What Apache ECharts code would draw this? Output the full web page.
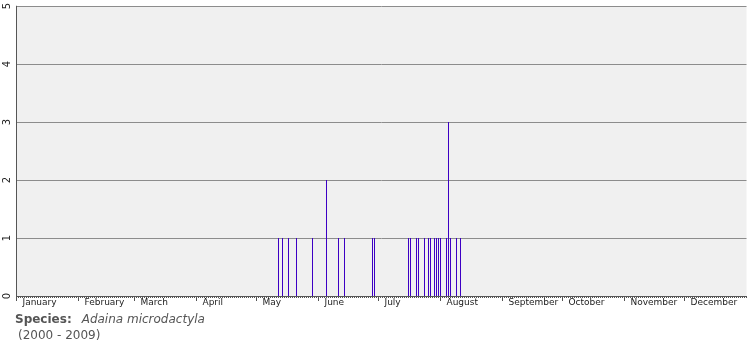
<!DOCTYPE html>
<html>
<head>
<meta charset="utf-8">
<script src="https://cdn.jsdelivr.net/npm/echarts@6/dist/echarts.min.js"></script>
<style>
html,body{margin:0;padding:0;background:#fff;}
#chart{width:755px;height:350px;}
</style>
</head>
<body>
<div id="chart"></div>
<script>
// Day of year (0 = 1 January) of each record, and number of records that day
var recordDays = [131, 133, 136, 140, 148, 155, 161, 164, 178, 179, 196, 197, 200, 201, 204, 206, 207, 209, 210, 211, 212, 215, 216, 217, 220, 222];
var recordCounts = [1, 1, 1, 1, 1, 2, 1, 1, 1, 1, 1, 1, 1, 1, 1, 1, 1, 1, 1, 1, 1, 1, 3, 1, 1, 1];
// Month names and the day of year on which each month starts
var monthNames = ['January', 'February', 'March', 'April', 'May', 'June', 'July', 'August', 'September', 'October', 'November', 'December'];
var monthStarts = [0, 31, 59, 90, 120, 151, 181, 212, 243, 273, 304, 334];
var yTicks = [0, 1, 2, 3, 4, 5];
var speciesName = 'Adaina microdactyla';
var yearRange = '(2000 - 2009)';

var chart = echarts.init(document.getElementById('chart'), null, {renderer: 'canvas'});
var data = recordDays.map(function (d, i) { return [d, recordCounts[i]]; });
var axisFont = 'DejaVu Sans';
var option = {
  animation: false,
  backgroundColor: '#ffffff',
  grid: {
    left: 16.5, top: 5, width: 730, bottom: 54,
    show: true, backgroundColor: '#f0f0f0', borderWidth: 0
  },
  xAxis: [{
    type: 'value', min: 0, max: 365, position: 'bottom',
    axisLine: {show: true, onZero: false, lineStyle: {color: '#555555', width: 1}},
    axisTick: {show: true, length: 5, customValues: monthStarts, lineStyle: {color: '#555555'}},
    axisLabel: {
      show: true, customValues: monthStarts, align: 'left', margin: 2,
      padding: [0, 0, 0, 6],
      fontFamily: axisFont, fontSize: 9, color: '#222222',
      formatter: function (v) { var k = monthStarts.indexOf(Math.round(v)); return k >= 0 ? monthNames[k] : ''; }
    },
    splitLine: {show: false}
  }, {
    type: 'value', min: 0, max: 365, interval: 1, position: 'bottom',
    axisLine: {show: false},
    axisTick: {show: true, length: 2, lineStyle: {color: '#555555'}},
    axisLabel: {show: false},
    splitLine: {show: false}
  }],
  yAxis: {
    type: 'value', min: 0, max: 5, interval: 1,
    axisLine: {show: true, lineStyle: {color: '#555555', width: 1}},
    axisTick: {show: false},
    axisLabel: {
      show: true, rotate: 90, margin: 4,
      fontFamily: axisFont, fontSize: 10, color: '#222222',
      formatter: function (v) { return yTicks.indexOf(v) >= 0 ? String(v) : ''; }
    },
    splitLine: {show: true, lineStyle: {color: '#8c8c8c', width: 1}}
  },
  series: [{
    type: 'bar', xAxisIndex: 0, data: data, barWidth: 1,
    itemStyle: {color: '#3d00c4'}, silent: true
  }],
  graphic: [{
    type: 'text', left: 15, top: 314,
    style: {
      text: '{b|Species:}   {i|' + speciesName + '}',
      rich: {
        b: {fontFamily: 'DejaVu Sans', fontSize: 12, fontWeight: 'bold', fill: '#555555'},
        i: {fontFamily: 'DejaVu Sans', fontSize: 12, fontStyle: 'italic', fill: '#555555'}
      }
    }
  }, {
    type: 'text', left: 18, top: 330,
    style: {text: yearRange, fontFamily: 'DejaVu Sans', fontSize: 12, fill: '#555555'}
  }]
};
chart.setOption(option);
</script>
</body>
</html>
